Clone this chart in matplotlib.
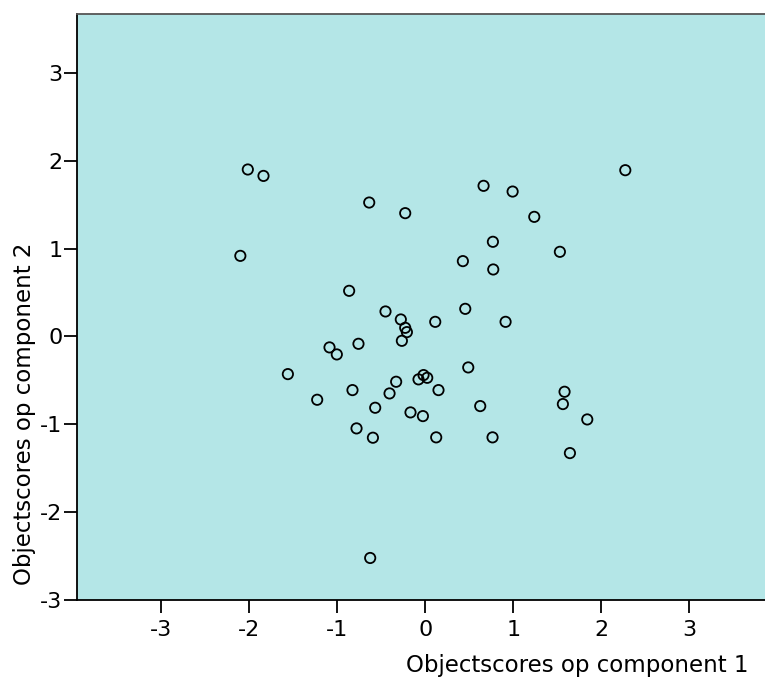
import matplotlib
matplotlib.use('Agg')
import matplotlib.pyplot as plt

# Objectscores
comp1 = [-2.015, -1.837, -0.636, -2.100, -0.864, -0.451, 2.273, 0.663,
         0.993, -0.227, 1.239, 0.769, 1.530, 0.428, 0.773, 0.455,
         -0.277, -0.227, -0.208, -0.265, 0.114, 0.913, -0.758, -1.087,
         -1.004, -1.560, -1.227, -0.826, -0.330, -0.405, -0.568, -0.780,
         -0.594, -0.625, 0.489, -0.076, -0.019, 0.023, 0.151, -0.167,
         -0.026, 0.625, 0.125, 0.765, 1.583, 1.564, 1.841, 1.644]
comp2 = [1.900, 1.827, 1.524, 0.917, 0.519, 0.284, 1.892, 1.714,
         1.649, 1.403, 1.361, 1.077, 0.963, 0.857, 0.762, 0.314,
         0.193, 0.098, 0.049, -0.050, 0.166, 0.166, -0.084, -0.125,
         -0.205, -0.429, -0.721, -0.611, -0.516, -0.649, -0.812, -1.047,
         -1.153, -2.522, -0.353, -0.489, -0.440, -0.471, -0.611, -0.865,
         -0.907, -0.793, -1.149, -1.149, -0.630, -0.770, -0.945, -1.328]
ticks = [-3, -2, -1, 0, 1, 2, 3]

plt.rcParams['font.family'] = ['DejaVu Sans']
plt.rcParams['axes.unicode_minus'] = False

fig = plt.figure(figsize=(7.65, 6.86), dpi=100)
ax = fig.add_axes([0.1007, 0.1254, 0.8993, 0.8542])
ax.set_facecolor('#b4e6e7')

ax.scatter(comp1, comp2, s=55, facecolors='none', edgecolors='black',
           linewidths=1.3, zorder=3)

ax.set_xlim(-3.955, 3.86)
ax.set_ylim(-3.0, 3.67)
ax.set_xticks(ticks)
ax.set_yticks(ticks)
ax.set_xticklabels([str(t) for t in ticks])
ax.set_yticklabels([str(t) for t in ticks])
ax.tick_params(direction='out', length=9.5, width=1.3, labelsize=16)
ax.tick_params(axis='x', pad=5)
ax.tick_params(axis='y', pad=1)

for side in ['left', 'bottom']:
    ax.spines[side].set_linewidth(1.3)
ax.spines['top'].set_color('#555555')
ax.spines['top'].set_linewidth(1.3)
ax.spines['right'].set_visible(False)

fig.text(0.978, 0.013, 'Objectscores op component 1', ha='right',
         va='bottom', fontsize=16.5)
fig.text(0.017, 0.147, 'Objectscores op component 2', ha='left',
         va='bottom', rotation=90, fontsize=16.5)

fig.savefig('out.png', dpi=100)
